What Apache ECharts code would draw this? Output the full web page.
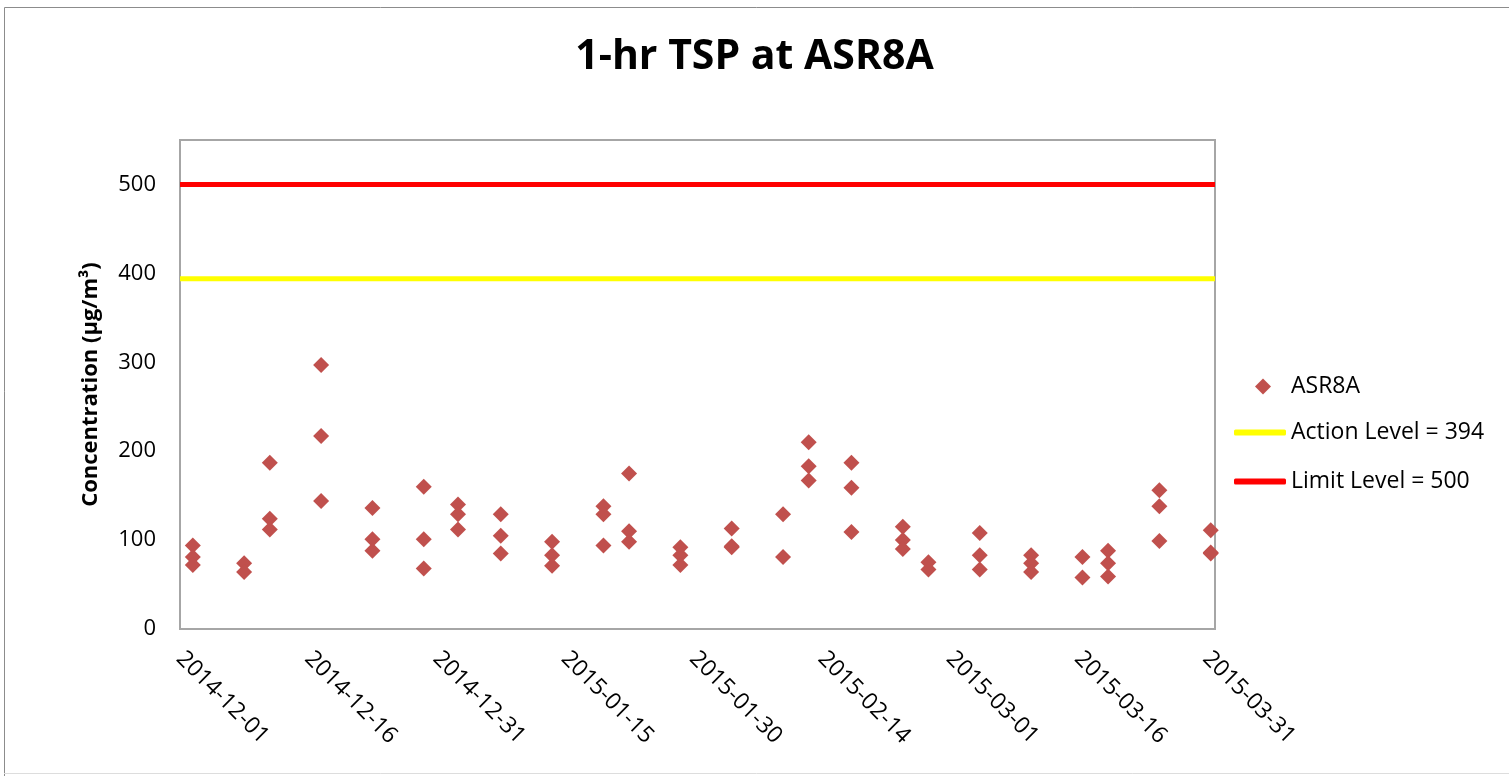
<!DOCTYPE html>
<html>
<head>
<meta charset="utf-8">
<script src="https://cdn.jsdelivr.net/npm/echarts@6/dist/echarts.min.js"></script>
<style>
html,body{margin:0;padding:0;background:#fff;}
#chart{width:1509px;height:776px;}
</style>
</head>
<body>
<div id="chart"></div>
<script>
// ---- Data ----
const axisStart = '2014-12-01';
const axisDays = 121;          // 2014-12-01 .. 2015-03-31 (one slot per day)
const tickEveryDays = 15;
const sampleDates = [
  '2014-12-02','2014-12-08','2014-12-11','2014-12-17','2014-12-23','2014-12-29',
  '2015-01-02','2015-01-07','2015-01-13','2015-01-19','2015-01-22','2015-01-28',
  '2015-02-03','2015-02-09','2015-02-12','2015-02-17','2015-02-23','2015-02-26',
  '2015-03-04','2015-03-10','2015-03-16','2015-03-19','2015-03-25','2015-03-31'
];
const tspValues = [
  [94, 81, 72], [74, 64], [187, 124, 112], [297, 217, 144], [136, 101, 88], [160, 101, 68],
  [140, 129, 112], [129, 105, 85], [98, 83, 71], [138, 129, 94], [175, 110, 98], [92, 83, 72],
  [113, 93, 92], [129, 81], [210, 183, 167], [187, 159, 109], [115, 100, 90], [75, 67],
  [108, 83, 67], [83, 74, 64], [81, 58], [88, 74, 59], [156, 138, 99], [111, 86, 85]
];
const actionLevel = 394;
const limitLevel = 500;
const yMax = 550;
const yInterval = 100;

// ---- Build ----
const DAY = 86400000;
const t0 = Date.parse(axisStart + 'T00:00:00Z');
function dayIndex(d) { return (Date.parse(d + 'T00:00:00Z') - t0) / DAY; }
function dayLabel(v) { return new Date(t0 + v * DAY).toISOString().slice(0, 10); }

const scatterData = [];
sampleDates.forEach((d, i) => {
  tspValues[i].forEach(v => scatterData.push([dayIndex(d) + 0.5, v]));
});

const FONT = 'Open Sans';
const legendText = { fontFamily: FONT, fontSize: 23, color: '#000' };
const chart = echarts.init(document.getElementById('chart'));
chart.setOption({
  animation: false,
  backgroundColor: '#fff',
  textStyle: { fontFamily: FONT, color: '#000' },
  title: {
    text: '1-hr TSP at ASR8A',
    left: 'center', top: 32,
    textStyle: { fontFamily: FONT, fontSize: 41, fontWeight: 'bold', color: '#000' }
  },
  grid: {
    left: 180, right: 294, top: 140, bottom: 147,
    show: true, borderColor: '#a6a6a6', borderWidth: 2, containLabel: false
  },
  legend: [
    {
      orient: 'vertical', left: 1250, top: 370, itemWidth: 16, itemHeight: 16,
      textStyle: Object.assign({ padding: [0, 0, 0, 15] }, legendText),
      data: [{ name: 'ASR8A', icon: 'diamond' }]
    },
    {
      orient: 'vertical', left: 1229, top: 416, itemWidth: 52, itemHeight: 6, itemGap: 26,
      textStyle: legendText,
      data: [
        { name: 'Action Level = 394', icon: 'roundRect' },
        { name: 'Limit Level = 500', icon: 'roundRect' }
      ]
    }
  ],
  xAxis: {
    type: 'value', min: 0, max: axisDays, interval: tickEveryDays,
    axisLine: { show: false }, axisTick: { show: false }, splitLine: { show: false },
    axisLabel: {
      rotate: -45, margin: 26, fontSize: 23, color: '#000', fontFamily: FONT,
      showMaxLabel: false,
      formatter: v => (v % tickEveryDays === 0 ? dayLabel(v) : '')
    }
  },
  yAxis: {
    type: 'value', min: 0, max: yMax, interval: yInterval,
    name: 'Concentration (µg/m³)', nameLocation: 'middle', nameGap: 78,
    nameTextStyle: { fontFamily: FONT, fontSize: 22, fontWeight: 'bold', color: '#000' },
    axisLine: { show: false }, axisTick: { show: false }, splitLine: { show: false },
    axisLabel: {
      margin: 24, fontSize: 22, color: '#000', fontFamily: FONT,
      formatter: v => (v % yInterval === 0 ? String(v) : '')
    }
  },
  series: [
    {
      name: 'ASR8A', type: 'scatter', symbol: 'diamond', symbolSize: 16,
      itemStyle: { color: '#c0504d', opacity: 1 }, data: scatterData, z: 3
    },
    {
      name: 'Action Level = 394', type: 'line', symbol: 'none',
      lineStyle: { color: '#ffff00', width: 5 }, itemStyle: { color: '#ffff00' },
      data: [[0, actionLevel], [axisDays, actionLevel]], z: 2
    },
    {
      name: 'Limit Level = 500', type: 'line', symbol: 'none',
      lineStyle: { color: '#ff0000', width: 5 }, itemStyle: { color: '#ff0000' },
      data: [[0, limitLevel], [axisDays, limitLevel]], z: 2
    }
  ],
  graphic: [
    { type: 'polyline', shape: { points: [[4.5, 776], [4.5, 7.5], [1509, 7.5]] },
      style: { stroke: '#8c8c8c', lineWidth: 1, fill: null }, silent: true },
    { type: 'line', shape: { x1: 4, y1: 773.5, x2: 1509, y2: 773.5 },
      style: { stroke: '#dddddd', lineWidth: 1 }, silent: true }
  ]
});
</script>
</body>
</html>
